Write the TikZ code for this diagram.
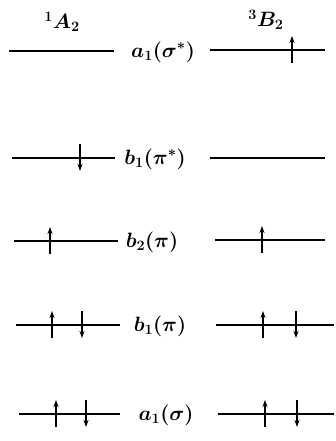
\documentclass[tikz,border=0pt]{standalone}
\usetikzlibrary{arrows.meta}
\tikzset{
  level/.style={line width=2.6pt},
  elec/.style={line width=2pt},
  eup/.style={elec,-{Stealth[length=7pt,width=5pt]}},
  edown/.style={elec,-{Stealth[length=7pt,width=5pt]}},
  lab/.style={font=\fontsize{22}{24}\selectfont\boldmath, inner sep=0pt},
}
\begin{document}
\begin{tikzpicture}[x=1pt,y=-1pt]
\useasboundingbox (0,0) rectangle (336,441);
% state labels
\node[lab] (lA) at (62,22) {$^1A_2$};
\node[lab] (lB) at (266,20) {$^3B_2$};
% MO labels
\node[lab] (m1) at (163,52) {$a_1(\sigma^*)$};
\node[lab] (m2) at (155,159) {$b_1(\pi^*)$};
\node[lab] (m3) at (152,242) {$b_2(\pi)$};
\node[lab] (m4) at (160,326) {$b_1(\pi)$};
\node[lab] (m5) at (166,415) {$a_1(\sigma)$};
% levels left
\coordinate (L1a) at (9,51);  \coordinate (L1b) at (114,51);
\coordinate (L2a) at (12,158); \coordinate (L2b) at (115,158);
\coordinate (L3a) at (14,241); \coordinate (L3b) at (118,241);
\coordinate (L4a) at (16,325); \coordinate (L4b) at (120,325);
\coordinate (L5a) at (19,414); \coordinate (L5b) at (120,414);
% levels right
\coordinate (R1a) at (210,50); \coordinate (R1b) at (325,50);
\coordinate (R2a) at (210,158); \coordinate (R2b) at (325,158);
\coordinate (R3a) at (215,240); \coordinate (R3b) at (325,240);
\coordinate (R4a) at (216,325); \coordinate (R4b) at (334,325);
\coordinate (R5a) at (218,414); \coordinate (R5b) at (334,414);
\foreach \p in {L1,L2,L3,L4,L5,R1,R2,R3,R4,R5}
  \draw[level] (\p a) -- (\p b);
% electrons: up arrows
\foreach \x/\y in {292/50, 50/241, 262/240, 52/325, 263/325, 56/414, 265/414}{
  \coordinate (s) at (\x,\y+13); \coordinate (t) at (\x,\y-14);
  \draw[eup] (s) -- (t);
}
% electrons: down arrows
\foreach \x/\y in {80/158, 82/325, 296/325, 86/414, 297/414}{
  \coordinate (s) at (\x,\y-14); \coordinate (t) at (\x,\y+13);
  \draw[edown] (s) -- (t);
}
\end{tikzpicture}
\end{document}
